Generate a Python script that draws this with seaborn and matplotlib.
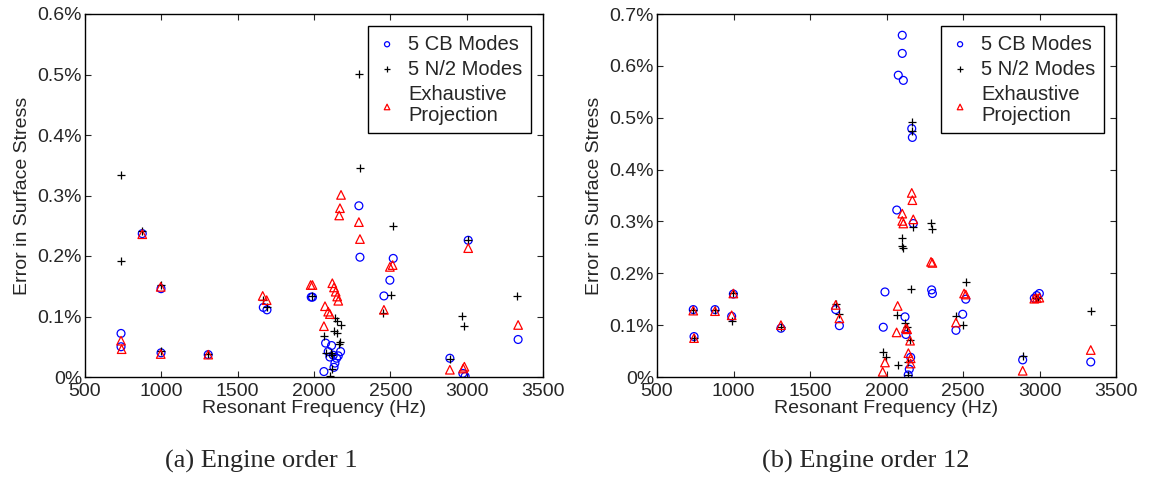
import matplotlib
matplotlib.use('Agg')
import matplotlib.pyplot as plt
from matplotlib.ticker import FuncFormatter
import seaborn as sns
import pandas as pd

# engine order 1
eo1_cb_freq = [736, 736, 875, 998, 998, 1307, 1668, 1692, 1982, 1990, 2065, 2076, 2093, 2104, 2115, 2126,
               2131, 2137, 2148, 2159, 2174, 2294, 2301, 2458, 2497, 2519, 2890, 2975, 2990, 3010, 3337]
eo1_cb_err = [0.072, 0.050, 0.237, 0.146, 0.040, 0.037, 0.115, 0.111, 0.132, 0.132, 0.009, 0.056, 0.042, 0.033,
              0.052, 0.036, 0.016, 0.023, 0.031, 0.035, 0.042, 0.283, 0.198, 0.134, 0.160, 0.196, 0.031, 0.006,
              0.001, 0.226, 0.062]
eo1_n2_freq = [736, 736, 875, 998, 998, 1307, 1668, 1692, 1986, 2065, 2078, 2104, 2109, 2115, 2120, 2131,
               2139, 2148, 2152, 2165, 2170, 2174, 2297, 2301, 2453, 2502, 2515, 2890, 2969, 2984, 3010, 3330]
eo1_n2_err = [0.334, 0.192, 0.241, 0.152, 0.043, 0.038, 0.127, 0.116, 0.134, 0.068, 0.040, 0.002, 0.039, 0.014,
              0.036, 0.076, 0.097, 0.073, 0.093, 0.055, 0.058, 0.086, 0.501, 0.346, 0.106, 0.136, 0.250, 0.030,
              0.101, 0.084, 0.226, 0.134]
eo1_ex_freq = [736, 740, 875, 996, 996, 1307, 1664, 1690, 1978, 1990, 2065, 2072, 2093, 2104, 2120, 2131,
               2142, 2152, 2159, 2165, 2170, 2177, 2294, 2301, 2458, 2497, 2515, 2890, 2977, 2985, 3010, 3337]
eo1_ex_err = [0.060, 0.046, 0.236, 0.149, 0.038, 0.037, 0.134, 0.127, 0.152, 0.152, 0.084, 0.117, 0.108, 0.104,
              0.155, 0.148, 0.141, 0.133, 0.126, 0.267, 0.279, 0.301, 0.256, 0.228, 0.111, 0.182, 0.185, 0.012,
              0.014, 0.017, 0.213, 0.086]

# engine order 12
eo12_cb_freq = [737, 742, 879, 999, 988, 1310, 1668, 1692, 1979, 1990, 2067, 2077, 2103, 2103, 2110, 2121,
                2127, 2158, 2149, 2142, 2165, 2169, 2175, 2295, 2300, 2454, 2498, 2518, 2890, 2966, 2982, 2999, 3335]
eo12_cb_err = [0.130, 0.078, 0.130, 0.160, 0.117, 0.094, 0.130, 0.099, 0.096, 0.164, 0.322, 0.582, 0.659, 0.624,
               0.572, 0.116, 0.082, 0.038, 0.015, 0.004, 0.479, 0.462, 0.296, 0.168, 0.161, 0.090, 0.121, 0.150,
               0.033, 0.152, 0.157, 0.161, 0.029]
eo12_n2_freq = [737, 742, 879, 999, 993, 1310, 1668, 1692, 1979, 1997, 2066, 2077, 2103, 2103, 2110, 2121,
                2135, 2143, 2143, 2154, 2158, 2165, 2169, 2175, 2291, 2300, 2454, 2502, 2518, 2890, 2975, 2990, 3335]
eo12_n2_err = [0.129, 0.076, 0.129, 0.162, 0.108, 0.097, 0.141, 0.121, 0.048, 0.039, 0.119, 0.023, 0.269, 0.252,
               0.248, 0.105, 0.097, 0.029, 0.003, 0.071, 0.170, 0.492, 0.474, 0.290, 0.297, 0.285, 0.118, 0.101,
               0.184, 0.040, 0.152, 0.153, 0.127]
eo12_ex_freq = [737, 742, 879, 999, 988, 1310, 1668, 1692, 1975, 1990, 2066, 2073, 2103, 2103, 2110, 2127,
                2135, 2143, 2154, 2158, 2158, 2165, 2169, 2175, 2291, 2300, 2454, 2507, 2518, 2890, 2966, 2982,
                2999, 3335]
eo12_ex_err = [0.128, 0.075, 0.127, 0.161, 0.119, 0.100, 0.139, 0.113, 0.010, 0.028, 0.086, 0.137, 0.315, 0.301,
               0.296, 0.094, 0.092, 0.046, 0.070, 0.036, 0.026, 0.355, 0.341, 0.304, 0.222, 0.220, 0.105, 0.161,
               0.159, 0.012, 0.151, 0.152, 0.153, 0.052]

series_labels = ['5 CB Modes', '5 N/2 Modes', 'Exhaustive\nProjection']
captions = ['(a) Engine order 1', '(b) Engine order 12']
y_max = [0.6, 0.7]

sns.set_style('ticks')
plt.rcParams['font.family'] = ['Liberation Sans', 'DejaVu Sans']
plt.rcParams['xtick.direction'] = 'in'
plt.rcParams['ytick.direction'] = 'in'


def pct(v, _):
    if abs(v) < 1e-9:
        return '0%'
    return f'{v:.1f}%'


def draw_panel(ax, cb, n2, ex, ymax):
    sns.scatterplot(x=cb[0], y=cb[1], ax=ax, marker='o', s=32, facecolor='none',
                    edgecolor='#0000ff', linewidth=0.9, label=series_labels[0])
    sns.scatterplot(x=n2[0], y=n2[1], ax=ax, marker='+', s=40, color='black',
                    linewidth=0.9, label=series_labels[1])
    sns.scatterplot(x=ex[0], y=ex[1], ax=ax, marker='^', s=38, facecolor='none',
                    edgecolor='#ff0000', linewidth=0.9, label=series_labels[2])
    ax.set_xlim(500, 3500)
    ax.set_ylim(0, ymax)
    ax.set_xticks(range(500, 3501, 500))
    ax.set_yticks([i / 10 for i in range(int(round(ymax * 10)) + 1)])
    ax.yaxis.set_major_formatter(FuncFormatter(pct))
    ax.tick_params(labelsize=14, top=True, right=True, length=4, width=0.8, pad=2)
    ax.tick_params(axis='x', pad=4)
    ax.set_xlabel('Resonant Frequency (Hz)', fontsize=14, labelpad=0)
    ax.set_ylabel('Error in Surface Stress', fontsize=14, labelpad=5)
    for sp in ax.spines.values():
        sp.set_linewidth(1.0)
        sp.set_color('black')
    leg = ax.legend(loc='upper right', fontsize=14.5, frameon=True, fancybox=False,
                    framealpha=1, edgecolor='black', borderpad=0.4, handletextpad=0.5,
                    labelspacing=0.3, handlelength=1.1, borderaxespad=0.62, markerscale=0.65)
    leg.get_frame().set_linewidth(1.0)
    for t in leg.get_texts():
        t.set_linespacing(1.15)


fig = plt.figure(figsize=(11.5, 4.79), dpi=100)
ax1 = fig.add_axes([85 / 1150, 1 - 377 / 479, 458 / 1150, 363 / 479])
ax2 = fig.add_axes([657 / 1150, 1 - 377 / 479, 459 / 1150, 363 / 479])

draw_panel(ax1, (eo1_cb_freq, eo1_cb_err), (eo1_n2_freq, eo1_n2_err), (eo1_ex_freq, eo1_ex_err), y_max[0])
draw_panel(ax2, (eo12_cb_freq, eo12_cb_err), (eo12_n2_freq, eo12_n2_err), (eo12_ex_freq, eo12_ex_err), y_max[1])

fig.text(261 / 1150, 1 - 461 / 479, captions[0], ha='center', va='center', fontsize=19,
         family=['Liberation Serif', 'DejaVu Serif'])
fig.text(866 / 1150, 1 - 461 / 479, captions[1], ha='center', va='center', fontsize=19,
         family=['Liberation Serif', 'DejaVu Serif'])

fig.savefig('out.png', dpi=100)
